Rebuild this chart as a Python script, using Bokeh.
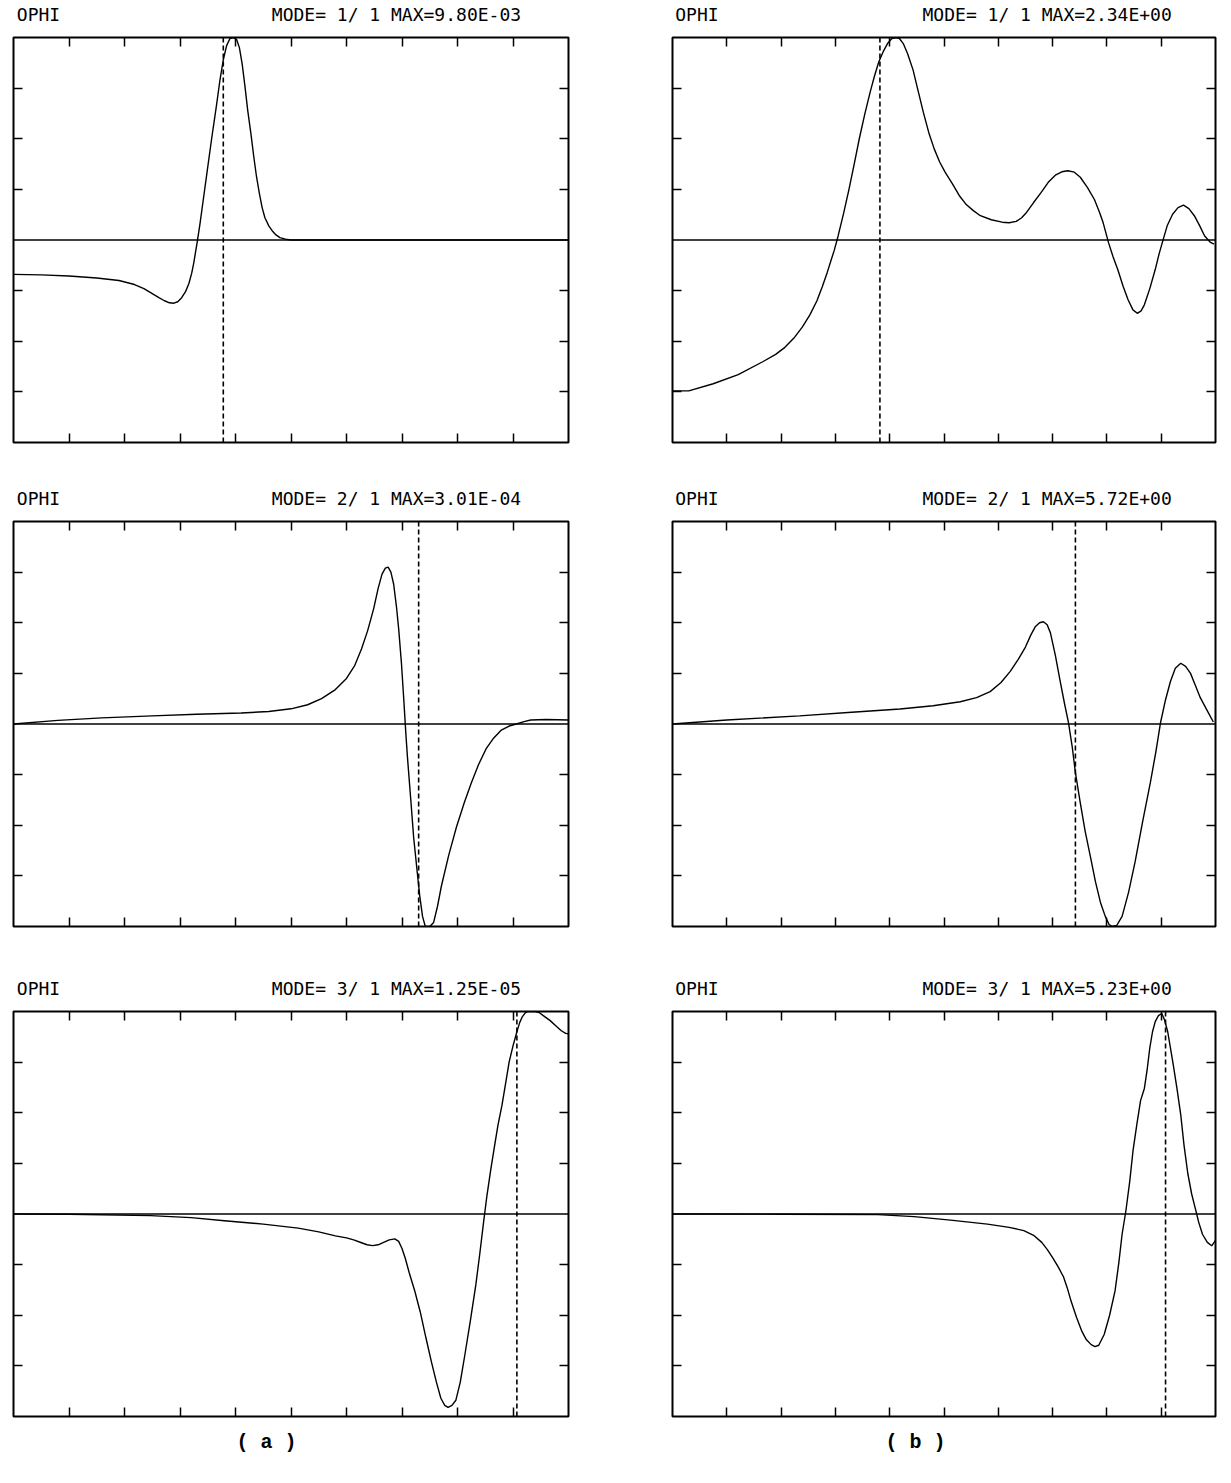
from bokeh.plotting import figure
from bokeh.layouts import column, row
from bokeh.models import Range1d, LinearAxis, FixedTicker, Title, CustomJSTickFormatter
from bokeh.embed import file_html
from bokeh.resources import INLINE

# ---------------- data (normalised: x in [0,1], y in [-1,1]) ----------------
titles = ["MODE= 1/ 1 MAX=9.80E-03", "MODE= 1/ 1 MAX=2.34E+00",
          "MODE= 2/ 1 MAX=3.01E-04", "MODE= 2/ 1 MAX=5.72E+00",
          "MODE= 3/ 1 MAX=1.25E-05", "MODE= 3/ 1 MAX=5.23E+00"]
left_title = "OPHI"
panel_letters = ["( a )", "( b )"]

a1_x = [0.0, 0.05, 0.10, 0.15, 0.19, 0.218, 0.235, 0.25, 0.262, 0.272, 0.281, 0.289, 0.296,
        0.303, 0.31, 0.316, 0.321, 0.325, 0.328, 0.331, 0.336, 0.342, 0.349, 0.357, 0.366,
        0.372, 0.378, 0.384, 0.39, 0.396, 0.402, 0.407, 0.412, 0.417, 0.422, 0.428, 0.433,
        0.438, 0.443, 0.448, 0.453, 0.46, 0.466, 0.473, 0.48, 0.49, 0.50, 1.0]
a1_y = [-0.17, -0.172, -0.178, -0.188, -0.20, -0.22, -0.24, -0.265, -0.285, -0.30, -0.31, -0.312, -0.305,
        -0.285, -0.255, -0.215, -0.165, -0.11, -0.06, -0.01, 0.08, 0.20, 0.34, 0.50, 0.67,
        0.79, 0.89, 0.96, 0.995, 1.0, 0.99, 0.95, 0.87, 0.76, 0.64, 0.52, 0.41,
        0.31, 0.23, 0.16, 0.11, 0.07, 0.046, 0.025, 0.012, 0.004, 0.0, 0.0]
a1_dash = 0.378

b1_x = [0.0, 0.03, 0.075, 0.121, 0.167, 0.19, 0.207, 0.225, 0.239, 0.253, 0.266, 0.276, 0.285,
        0.292, 0.298, 0.305, 0.315, 0.325, 0.335, 0.344, 0.354, 0.364, 0.372, 0.38, 0.388,
        0.396, 0.404, 0.412, 0.418, 0.425, 0.433, 0.443, 0.452, 0.462, 0.472, 0.482, 0.492,
        0.502, 0.515, 0.528, 0.541, 0.554, 0.567, 0.587, 0.607, 0.62, 0.633, 0.643, 0.652,
        0.665, 0.679, 0.692, 0.705, 0.717, 0.728, 0.74, 0.751, 0.764, 0.777, 0.786, 0.793,
        0.803, 0.811, 0.82, 0.83, 0.839, 0.848, 0.856, 0.863, 0.869, 0.879, 0.889, 0.896,
        0.902, 0.911, 0.921, 0.931, 0.941, 0.951, 0.961, 0.971, 0.98, 0.99, 0.997]
b1_y = [-0.745, -0.745, -0.71, -0.665, -0.60, -0.565, -0.53, -0.48, -0.43, -0.37, -0.30, -0.23, -0.16,
        -0.10, -0.05, 0.02, 0.13, 0.25, 0.38, 0.50, 0.62, 0.73, 0.81, 0.88, 0.93,
        0.97, 0.995, 1.0, 0.995, 0.97, 0.92, 0.84, 0.74, 0.63, 0.53, 0.45, 0.385,
        0.335, 0.28, 0.22, 0.175, 0.145, 0.12, 0.10, 0.088, 0.085, 0.092, 0.11, 0.136,
        0.185, 0.235, 0.285, 0.32, 0.337, 0.342, 0.335, 0.31, 0.26, 0.20, 0.14, 0.086,
        -0.013, -0.08, -0.146, -0.23, -0.295, -0.345, -0.362, -0.35, -0.32, -0.24, -0.146, -0.07,
        -0.013, 0.07, 0.127, 0.16, 0.172, 0.155, 0.12, 0.07, 0.02, -0.01, -0.02]
b1_dash = 0.382

a2_x = [0.0, 0.08, 0.159, 0.25, 0.33, 0.41, 0.46, 0.50, 0.53, 0.555, 0.58, 0.60, 0.615,
        0.627, 0.638, 0.649, 0.657, 0.664, 0.67, 0.675, 0.68, 0.685, 0.69, 0.694, 0.699,
        0.703, 0.707, 0.71, 0.716, 0.721, 0.727, 0.732, 0.737, 0.742, 0.75, 0.757, 0.764,
        0.771, 0.784, 0.798, 0.812, 0.825, 0.838, 0.852, 0.865, 0.879, 0.893, 0.906, 0.92,
        0.932, 0.96, 1.0]
a2_y = [0.0, 0.018, 0.03, 0.04, 0.048, 0.054, 0.062, 0.075, 0.095, 0.125, 0.17, 0.225, 0.29,
        0.37, 0.46, 0.57, 0.67, 0.74, 0.77, 0.775, 0.75, 0.69, 0.58, 0.47, 0.30,
        0.13, -0.05, -0.17, -0.38, -0.56, -0.72, -0.85, -0.95, -1.0, -1.0, -0.98, -0.90,
        -0.80, -0.65, -0.51, -0.39, -0.29, -0.20, -0.12, -0.07, -0.03, -0.01, 0.0, 0.012,
        0.02, 0.022, 0.02]
a2_dash = 0.73

b2_x = [0.0, 0.10, 0.234, 0.33, 0.419, 0.48, 0.53, 0.56, 0.585, 0.605, 0.622, 0.637, 0.65,
        0.66, 0.668, 0.676, 0.683, 0.69, 0.696, 0.705, 0.714, 0.722, 0.729, 0.736, 0.742,
        0.751, 0.76, 0.77, 0.779, 0.788, 0.797, 0.804, 0.81, 0.818, 0.828, 0.84, 0.852,
        0.866, 0.88, 0.89, 0.899, 0.908, 0.917, 0.926, 0.936, 0.945, 0.954, 0.963, 0.972,
        0.984, 0.996]
b2_y = [0.0, 0.02, 0.04, 0.058, 0.074, 0.09, 0.11, 0.13, 0.16, 0.205, 0.26, 0.32, 0.38,
        0.44, 0.48, 0.50, 0.505, 0.49, 0.45, 0.34, 0.21, 0.10, 0.01, -0.11, -0.24,
        -0.39, -0.53, -0.66, -0.78, -0.88, -0.95, -0.99, -1.0, -0.995, -0.95, -0.83, -0.68,
        -0.48, -0.29, -0.14, 0.01, 0.12, 0.21, 0.275, 0.30, 0.285, 0.25, 0.19, 0.13,
        0.07, 0.01]
b2_dash = 0.742

a3_x = [0.0, 0.10, 0.247, 0.32, 0.38, 0.45, 0.513, 0.55, 0.58, 0.60, 0.613, 0.627, 0.637,
        0.647, 0.657, 0.667, 0.677, 0.687, 0.694, 0.70, 0.706, 0.713, 0.723, 0.733, 0.743,
        0.753, 0.762, 0.77, 0.777, 0.783, 0.79, 0.797, 0.805, 0.813, 0.823, 0.833, 0.84,
        0.847, 0.853, 0.86, 0.867, 0.873, 0.88, 0.887, 0.893, 0.90, 0.907, 0.912, 0.917,
        0.922, 0.927, 0.94, 0.947, 0.957, 0.967, 0.977, 0.987, 0.995, 1.0]
a3_y = [0.0, -0.001, -0.008, -0.018, -0.033, -0.05, -0.07, -0.088, -0.108, -0.118, -0.128, -0.142, -0.152,
        -0.156, -0.152, -0.14, -0.128, -0.123, -0.135, -0.17, -0.22, -0.29, -0.38, -0.485, -0.61,
        -0.73, -0.83, -0.91, -0.945, -0.955, -0.945, -0.92, -0.83, -0.70, -0.53, -0.35, -0.20,
        -0.04, 0.09, 0.22, 0.34, 0.44, 0.535, 0.65, 0.75, 0.83, 0.90, 0.945, 0.975,
        0.993, 1.0, 1.0, 0.995, 0.975, 0.955, 0.93, 0.905, 0.892, 0.89]
a3_dash = 0.907

b3_x = [0.0, 0.20, 0.378, 0.445, 0.512, 0.58, 0.62, 0.647, 0.665, 0.68, 0.69, 0.70, 0.71,
        0.72, 0.727, 0.734, 0.744, 0.754, 0.762, 0.771, 0.778, 0.785, 0.795, 0.805, 0.815,
        0.822, 0.828, 0.835, 0.842, 0.848, 0.855, 0.862, 0.869, 0.874, 0.879, 0.884, 0.889,
        0.895, 0.901, 0.906, 0.912, 0.917, 0.922, 0.929, 0.936, 0.942, 0.949, 0.956, 0.963,
        0.969, 0.976, 0.985, 0.993, 1.0]
b3_y = [0.0, -0.001, -0.003, -0.013, -0.03, -0.05, -0.066, -0.082, -0.105, -0.14, -0.175, -0.215, -0.26,
        -0.31, -0.365, -0.43, -0.51, -0.58, -0.62, -0.645, -0.655, -0.648, -0.595, -0.50, -0.38,
        -0.24, -0.10, 0.016, 0.16, 0.31, 0.44, 0.56, 0.62, 0.71, 0.82, 0.90, 0.95,
        0.98, 0.99, 0.96, 0.90, 0.82, 0.74, 0.62, 0.49, 0.34, 0.20, 0.10, 0.025,
        -0.04, -0.10, -0.14, -0.157, -0.13]
b3_dash = 0.908

x_ticks = [0.1, 0.2, 0.3, 0.4, 0.5, 0.6, 0.7, 0.8, 0.9]
y_ticks = [-0.75, -0.5, -0.25, 0.25, 0.5, 0.75]
header_ticks = [0.045, 0.69]

FONT = "DejaVu Sans Mono"


def make_axis(ticks):
    ax = LinearAxis(ticker=FixedTicker(ticks=ticks),
                    formatter=CustomJSTickFormatter(code="return ''"))
    ax.axis_line_color = None
    ax.major_tick_in = 9
    ax.major_tick_out = 0
    ax.major_tick_line_color = "black"
    ax.major_tick_line_width = 1.5
    ax.minor_tick_line_color = None
    ax.major_label_standoff = 0
    return ax


def header_axis(title):
    ax = LinearAxis(ticker=FixedTicker(ticks=header_ticks),
                    major_label_overrides={header_ticks[0]: left_title,
                                           header_ticks[1]: title})
    ax.axis_line_color = None
    ax.major_tick_line_color = None
    ax.minor_tick_line_color = None
    ax.major_tick_in = 0
    ax.major_tick_out = 0
    ax.major_label_standoff = 13
    ax.major_label_text_font = FONT
    ax.major_label_text_font_size = "18px"
    ax.major_label_text_color = "black"
    return ax


def panel(xs, ys, dash, title, left_col, top, bottom, letter=None, letter_offset=0):
    p = figure(frame_width=555 if left_col else 543, frame_height=405,
               x_range=Range1d(0, 1), y_range=Range1d(-1, 1),
               x_axis_type=None, y_axis_type=None,
               toolbar_location=None, output_backend="svg",
               min_border_left=13 if left_col else 54,
               min_border_right=50 if left_col else 8,
               min_border_top=top, min_border_bottom=bottom,
               background_fill_color="white", border_fill_color="white")
    p.grid.visible = False
    p.outline_line_color = "black"
    p.outline_line_width = 2
    for side, t in (("left", y_ticks), ("right", y_ticks), ("above", x_ticks), ("below", x_ticks)):
        p.add_layout(make_axis(t), side)
    p.add_layout(header_axis(title), "above")
    p.line([0, 1], [0, 0], line_color="black", line_width=1.6)
    p.line(xs, ys, line_color="black", line_width=1.4)
    p.line([dash, dash], [-1, 1], line_color="black", line_width=1.6, line_dash="5 3")
    if letter is not None:
        p.add_layout(Title(text=letter, align="left", offset=letter_offset,
                           text_font="Liberation Mono", text_font_size="20px",
                           text_font_style="bold", text_color="black", standoff=24), "below")
    return p


p1 = panel(a1_x, a1_y, a1_dash, titles[0], True, 36, 10)
p2 = panel(b1_x, b1_y, b1_dash, titles[1], False, 36, 10)
p3 = panel(a2_x, a2_y, a2_dash, titles[2], True, 69, 10)
p4 = panel(b2_x, b2_y, b2_dash, titles[3], False, 69, 10)
p5 = panel(a3_x, a3_y, a3_dash, titles[4], True, 75, 52, panel_letters[0], 223)
p6 = panel(b3_x, b3_y, b3_dash, titles[5], False, 75, 52, panel_letters[1], 213)

layout = column(row(p1, p2), row(p3, p4), row(p5, p6))
open("out.html", "w").write(file_html(layout, INLINE))
